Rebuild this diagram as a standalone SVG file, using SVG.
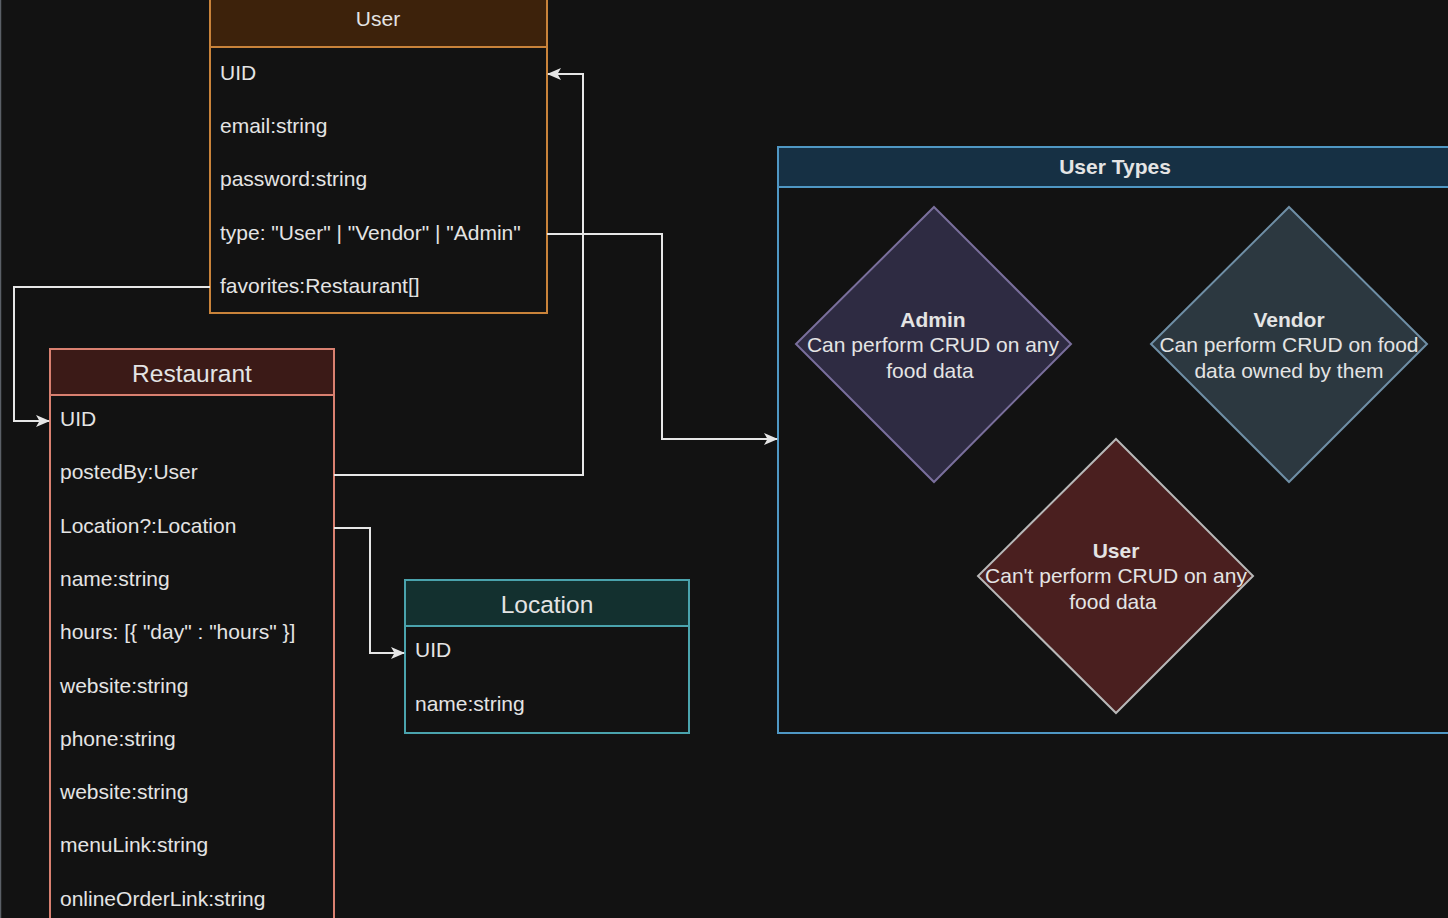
<svg xmlns="http://www.w3.org/2000/svg" width="1448" height="918" viewBox="0 0 1448 918">
<defs>
<marker id="arr" viewBox="0 0 14 12" refX="13" refY="6" markerWidth="14" markerHeight="12" markerUnits="userSpaceOnUse" orient="auto">
<path d="M0,0 L14,6 L0,12 L3.5,6 Z" fill="#e6e6e6"/>
</marker>
<style>
text{font-family:"Liberation Sans",Arial,sans-serif;fill:#e4e4e4}
.row{font-size:21px}
.h24{font-size:24.5px;text-anchor:middle}
.h21{font-size:21px;text-anchor:middle}
.b{font-weight:bold}
.d{font-size:21px;text-anchor:middle}
.conn{fill:none;stroke:#e6e6e6;stroke-width:2;marker-end:url(#arr)}
</style>
</defs>
<rect x="0" y="0" width="1448" height="918" fill="#121212"/>
<line x1="0.5" y1="0" x2="0.5" y2="918" stroke="#5a5f66" stroke-width="1.5"/>

<g id="node-user-types">
<rect x="778" y="187" width="680" height="546" fill="#121212" stroke="#4f97c4" stroke-width="2"/>
<rect x="778" y="147" width="680" height="40" fill="#163044" stroke="#4f97c4" stroke-width="2"/>
<text x="1115" y="174" class="h21 b">User Types</text>
</g>

<g id="node-admin">
<polygon points="934,207 1071,344 934,482 796,344" fill="#2e2b42" stroke="#7a6f9c" stroke-width="2"/>
<text x="933" y="327" class="d b">Admin</text>
<text x="933" y="352" class="d">Can perform CRUD on any</text>
<text x="930" y="378" class="d">food data</text>
</g>

<g id="node-vendor">
<polygon points="1289,207 1427,344 1289,482 1151,344" fill="#2c3840" stroke="#6f8fa6" stroke-width="2"/>
<text x="1289" y="327" class="d b">Vendor</text>
<text x="1289" y="352" class="d">Can perform CRUD on food</text>
<text x="1289" y="378" class="d">data owned by them</text>
</g>

<g id="node-user-type">
<polygon points="1116,439 1253,576 1116,713 978,576" fill="#4a1f1f" stroke="#b8b8b8" stroke-width="2"/>
<text x="1116" y="558" class="d b">User</text>
<text x="1116" y="583" class="d">Can't perform CRUD on any</text>
<text x="1113" y="609" class="d">food data</text>
</g>

<g id="node-user">
<rect x="210" y="47" width="337" height="266" fill="#121212" stroke="#c9833a" stroke-width="2"/>
<rect x="210" y="-3" width="337" height="50" fill="#3d220b" stroke="#c9833a" stroke-width="2"/>
<text x="378" y="26" class="h21">User</text>
<text x="220" y="80" class="row">UID</text>
<text x="220" y="133" class="row">email:string</text>
<text x="220" y="186" class="row">password:string</text>
<text x="220" y="240" class="row">type: "User" | "Vendor" | "Admin"</text>
<text x="220" y="293" class="row">favorites:Restaurant[]</text>
</g>

<g id="node-restaurant">
<rect x="50" y="395" width="284" height="530" fill="#121212" stroke="#d98070" stroke-width="2"/>
<rect x="50" y="349" width="284" height="46" fill="#3b1a17" stroke="#d98070" stroke-width="2"/>
<text x="192" y="382" class="h24">Restaurant</text>
<text x="60" y="426" class="row">UID</text>
<text x="60" y="479" class="row">postedBy:User</text>
<text x="60" y="533" class="row">Location?:Location</text>
<text x="60" y="586" class="row">name:string</text>
<text x="60" y="639" class="row">hours: [{ "day" : "hours" }]</text>
<text x="60" y="693" class="row">website:string</text>
<text x="60" y="746" class="row">phone:string</text>
<text x="60" y="799" class="row">website:string</text>
<text x="60" y="852" class="row">menuLink:string</text>
<text x="60" y="906" class="row">onlineOrderLink:string</text>
</g>

<g id="node-location">
<rect x="405" y="626" width="284" height="107" fill="#121212" stroke="#4aa3ad" stroke-width="2"/>
<rect x="405" y="580" width="284" height="46" fill="#13302f" stroke="#4aa3ad" stroke-width="2"/>
<text x="547" y="613" class="h24">Location</text>
<text x="415" y="657" class="row">UID</text>
<text x="415" y="711" class="row">name:string</text>
</g>

<g id="connectors">
<path class="conn" d="M210,287 H14 V421 H49"/>
<path class="conn" d="M334,475 H583 V74 H548"/>
<path class="conn" d="M547,234 H662 V439 H777"/>
<path class="conn" d="M334,528 H370 V653 H404"/>
</g>
</svg>
